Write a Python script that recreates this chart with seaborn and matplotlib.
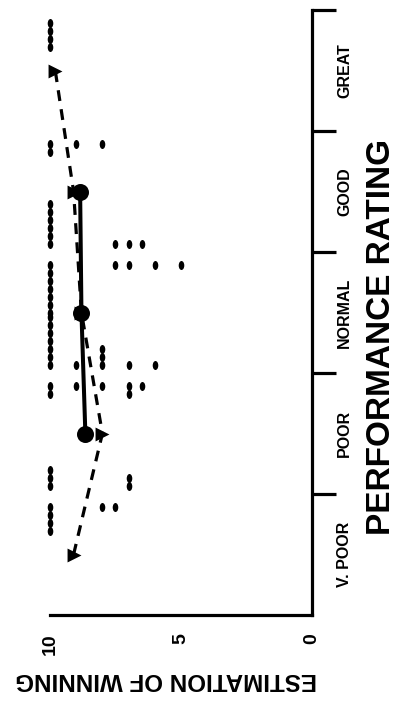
import matplotlib
matplotlib.use("Agg")
import matplotlib.pyplot as plt
import numpy as np
import pandas as pd
import seaborn as sns
from matplotlib.path import Path
from matplotlib.markers import MarkerStyle

# Rating bands, bottom to top
categories = ["V. POOR", "POOR", "NORMAL", "GOOD", "GREAT"]
value_ticks = [0, 5, 10]

# Individual estimations of winning, first sub-row of each band (stacked down from the band top)
great_upper = [10, 10, 10, 10]
good_upper = [10, 10, 9, 8]
normal_upper = [10, 10, 10, 10, 10, 10, 10, 7.5, 7, 6, 5]
poor_upper = [10, 10, 9, 8, 7, 7, 6.5]
vpoor_upper = [10, 10, 10, 10, 8, 7.5]

# Second sub-row of each band (stacked up from the band bottom)
good_lower = [10, 10, 10, 10, 10, 10, 7.5, 7, 6.5]
normal_lower = [10, 10, 10, 10, 10, 10, 10, 9, 8, 8, 8, 7, 6]
poor_lower = [10, 10, 10, 7, 7]

# Group means
circle_cats = ["POOR", "NORMAL", "GOOD"]
circle_means = [8.65, 8.8, 8.85]
triangle_cats = ["V. POOR", "POOR", "NORMAL", "GOOD", "GREAT"]
triangle_means = [9.1, 8.0, 8.8, 9.1, 9.8]

sns.set_theme(style="white")
font = ["Liberation Sans", "DejaVu Sans"]
plt.rcParams["font.family"] = font
for key in ("text.color", "axes.labelcolor", "xtick.color", "ytick.color"):
    plt.rcParams[key] = "black"

STEP = 0.066
TOP_GAP = 0.11
BOTTOM_GAP = 0.07

def stack(values, cat, from_top):
    base = categories.index(cat)
    seen = {}
    out = []
    for v in values:
        k = seen.get(v, 0)
        seen[v] = k + 1
        if from_top:
            pos = base + 1 - TOP_GAP - k * STEP
        else:
            pos = base + BOTTOM_GAP + k * STEP
        out.append((v, pos))
    return out

dots = []
dots += stack(great_upper, "GREAT", True)
dots += stack(good_upper, "GOOD", True)
dots += stack(normal_upper, "NORMAL", True)
dots += stack(poor_upper, "POOR", True)
dots += stack(vpoor_upper, "V. POOR", True)
dots += stack(good_lower, "GOOD", False)
dots += stack(normal_lower, "NORMAL", False)
dots += stack(poor_lower, "POOR", False)
dot_df = pd.DataFrame(dots, columns=["estimation", "band"])

circ_df = pd.DataFrame({
    "estimation": circle_means,
    "band": [categories.index(c) + 0.5 for c in circle_cats],
})
tri_df = pd.DataFrame({
    "estimation": triangle_means,
    "band": [categories.index(c) + 0.5 for c in triangle_cats],
})

fig = plt.figure(figsize=(4.03, 7.02), dpi=100)
ax = fig.add_axes([50 / 403, 87 / 702, 262 / 403, 605 / 702])

# slightly upright oval dots
circle = Path.unit_circle()
oval = Path(circle.vertices * np.array([0.62, 1.0]), circle.codes)

sns.scatterplot(data=dot_df, x="estimation", y="band", ax=ax, marker=MarkerStyle(oval),
                s=42, color="black", edgecolor="black", linewidth=0, zorder=3,
                clip_on=False)

sns.lineplot(data=tri_df, x="estimation", y="band", ax=ax, sort=False, estimator=None,
             color="black", linewidth=2.3, linestyle=(0, (3.4, 2.6)), zorder=4)
sns.scatterplot(data=tri_df, x="estimation", y="band", ax=ax, marker=">",
                s=100, color="black", edgecolor="black", linewidth=0, zorder=5,
                clip_on=False)

sns.lineplot(data=circ_df, x="estimation", y="band", ax=ax, sort=False, estimator=None,
             color="black", linewidth=2.9, zorder=6)
sns.scatterplot(data=circ_df, x="estimation", y="band", ax=ax, marker="o",
                s=150, color="black", edgecolor="black", linewidth=0, zorder=7)

ax.set_xlim(10, 0)
ax.set_ylim(0, 5)

sns.despine(ax=ax, top=True, left=True, right=False, bottom=False)
for side in ("bottom", "right"):
    ax.spines[side].set_linewidth(2.3)
    ax.spines[side].set_color("black")

# value axis
ax.set_xticks(np.arange(0, 11, 1))
ax.set_xticklabels([str(v) if v in value_ticks else "" for v in range(11)])
ax.tick_params(axis="x", which="major", direction="out", length=10, width=2.3,
               color="black", pad=3, labelsize=14, labelrotation=90)
for lab in ax.get_xticklabels():
    lab.set_fontweight("bold")

# rating axis
ax.yaxis.tick_right()
ax.set_yticks([1, 2, 3, 4, 5])
ax.set_yticklabels([])
ax.set_yticks([i + 0.5 for i in range(len(categories))], minor=True)
ax.set_yticklabels(categories, minor=True, rotation=90, va="center",
                   fontweight="bold", fontsize=11.5)
ax.tick_params(axis="y", which="major", direction="out", length=17, width=2.3,
               color="black", right=True, left=False)
ax.tick_params(axis="y", which="minor", length=0, pad=18, right=True, left=False)

ax.set_xlabel("ESTIMATION OF WINNING", rotation=180, fontsize=17.4, fontweight="bold")
ax.xaxis.set_label_coords(0.443, -0.088)

ax.yaxis.set_label_position("right")
ax.set_ylabel("PERFORMANCE RATING", rotation=90, fontsize=24, fontweight="bold")
ax.yaxis.set_label_coords(1.205, 0.46)

ax.grid(False)
fig.savefig("out.png", dpi=100, facecolor="white")
